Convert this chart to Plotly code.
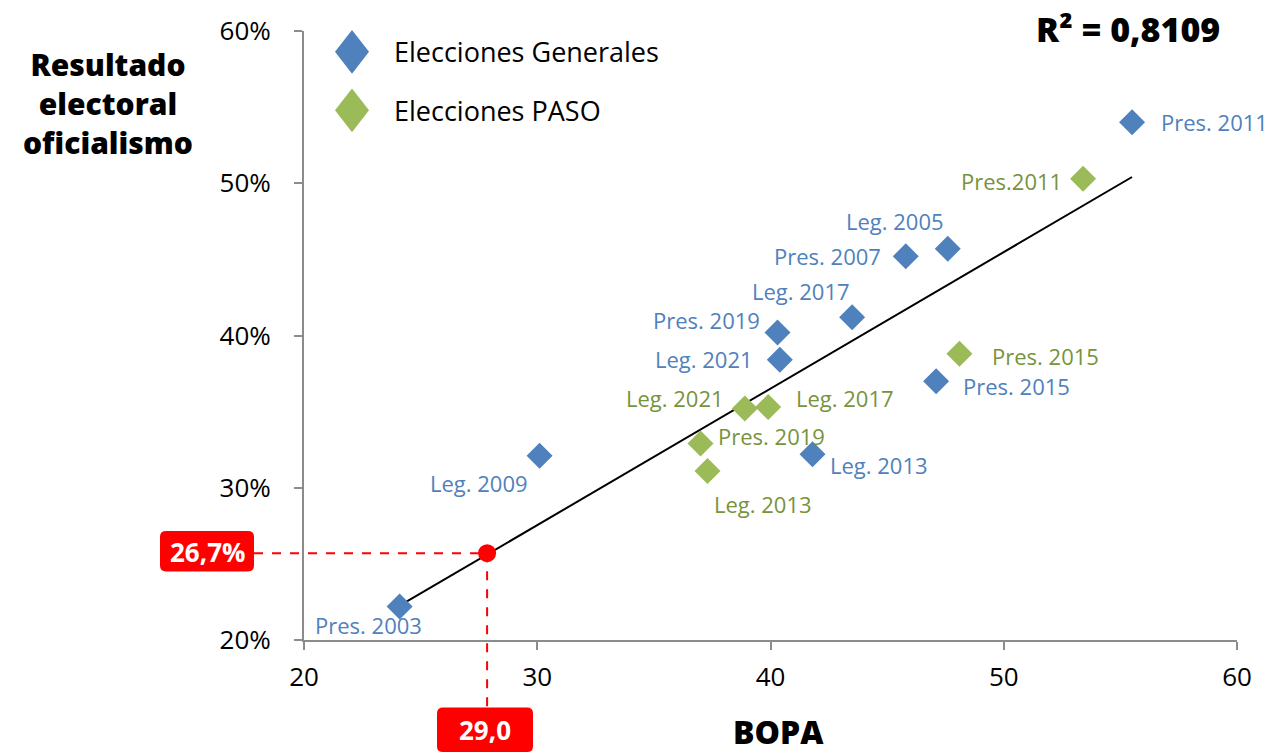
import numpy as np
import plotly.graph_objects as go

# ---- data ----
gen_labels = ["Pres. 2003", "Leg. 2009", "Pres. 2019", "Leg. 2021", "Leg. 2017",
              "Leg. 2013", "Pres. 2007", "Leg. 2005", "Pres. 2015", "Pres. 2011"]
gen_bopa = [24.1, 30.1, 40.3, 40.4, 43.5, 41.8, 45.8, 47.6, 47.1, 55.5]
gen_result = [22.2, 32.1, 40.2, 38.4, 41.2, 32.2, 45.2, 45.7, 37.0, 54.0]

paso_labels = ["Pres.2011", "Pres. 2015", "Leg. 2021", "Leg. 2017", "Pres. 2019", "Leg. 2013"]
paso_bopa = [53.4, 48.1, 38.9, 39.9, 37.0, 37.3]
paso_result = [50.3, 38.8, 35.2, 35.3, 32.9, 31.1]

trend_x = [24.1, 55.5]          # extent of the fitted line
est_bopa = 27.85                # highlighted estimate point
est_result = 25.7
est_bopa_label = "29,0"
est_result_label = "26,7%"
r2_label = "R² = 0,8109"

# ---- styling / label offsets (pixels: dx right, dy down) ----
gen_offsets = [(-31, 18), (-61, 27), (-71, -12), (-76, -1), (-51, -26),
               (67, 11), (-78, 0), (-53, -28), (80, 5), (82, 0)]
paso_offsets = [(-72, 2), (86, 2), (-70, -11), (77, -9), (71, -8), (55, 33)]

BLUE = "#4F81BD"
GREEN = "#9BBB59"
GREEN_TXT = "#77933C"
RED = "#FF0000"
FONT = "Open Sans"
LABEL_SIZE = 22

# regression line from all points
all_x = np.array(gen_bopa + paso_bopa)
all_y = np.array(gen_result + paso_result)
slope, intercept = np.polyfit(all_x, all_y, 1)
tx = np.array(trend_x)
ty = slope * tx + intercept

fig = go.Figure()
fig.add_trace(go.Scatter(x=tx, y=ty, mode="lines", line=dict(color="black", width=2),
                         hoverinfo="skip", showlegend=False))
fig.add_trace(go.Scatter(x=gen_bopa, y=gen_result, mode="markers", name="Elecciones Generales",
                         marker=dict(symbol="diamond", size=20, color=BLUE), showlegend=False))
fig.add_trace(go.Scatter(x=paso_bopa, y=paso_result, mode="markers", name="Elecciones PASO",
                         marker=dict(symbol="diamond", size=20, color=GREEN), showlegend=False))
fig.add_trace(go.Scatter(x=[est_bopa], y=[est_result], mode="markers",
                         marker=dict(symbol="circle", size=18, color=RED), showlegend=False))

annotations = []
for lab, x, y, (dx, dy) in zip(gen_labels, gen_bopa, gen_result, gen_offsets):
    annotations.append(dict(x=x, y=y, text=lab, showarrow=False, xshift=dx, yshift=-dy,
                            xanchor="center", yanchor="middle",
                            font=dict(family=FONT, size=LABEL_SIZE, color=BLUE)))
for lab, x, y, (dx, dy) in zip(paso_labels, paso_bopa, paso_result, paso_offsets):
    annotations.append(dict(x=x, y=y, text=lab, showarrow=False, xshift=dx, yshift=-dy,
                            xanchor="center", yanchor="middle",
                            font=dict(family=FONT, size=LABEL_SIZE, color=GREEN_TXT)))

W, H = 1274, 755
L, R, T, B = 304, 37, 26, 115
pw, ph = W - L - R, H - T - B


def px(xpix):
    return (xpix - L) / pw


def py(ypix):
    return (H - B - ypix) / ph


def txt(x, y, text, size, color="black", weight="normal", xanchor="center"):
    return dict(xref="paper", yref="paper", x=px(x), y=py(y), showarrow=False, text=text,
                xanchor=xanchor, yanchor="middle", align="center",
                font=dict(family=FONT, size=size, color=color, weight=weight))


# axis titles, R², legend texts
annotations.append(txt(108, 99, "Resultado<br>electoral<br>oficialismo", 30, weight=800))
annotations.append(txt(778, 732, "BOPA", 32, weight=800))
annotations.append(txt(1128, 24, r2_label, 34, weight=800))
annotations.append(txt(392, 47, "Elecciones Generales", 27, xanchor="left"))
annotations.append(txt(392, 106, "Elecciones PASO", 27, xanchor="left"))
# red value boxes text
annotations.append(txt(207, 551, est_result_label, 26, color="white", weight="bold"))
annotations.append(txt(485, 731, est_bopa_label, 26, color="white", weight="bold"))

shapes = []


def rounded_box(x0, y0, x1, y1, r=6):
    a, b, c, d = px(x0), px(x1), py(y0), py(y1)   # left, right, top, bottom (paper)
    rx, ry = r / pw, r / ph
    path = (f"M {a+rx},{c} L {b-rx},{c} Q {b},{c} {b},{c-ry} L {b},{d+ry} Q {b},{d} {b-rx},{d} "
            f"L {a+rx},{d} Q {a},{d} {a},{d+ry} L {a},{c-ry} Q {a},{c} {a+rx},{c} Z")
    return dict(type="path", xref="paper", yref="paper", path=path, fillcolor=RED,
                line=dict(width=0), layer="above")


# dashed guide lines
shapes.append(dict(type="line", xref="paper", yref="y", x0=px(254), x1=(est_bopa - 20) / 40,
                   y0=est_result, y1=est_result, line=dict(color=RED, width=2, dash="dash"),
                   layer="below"))
shapes.append(dict(type="line", xref="x", yref="paper", x0=est_bopa, x1=est_bopa,
                   y0=(est_result - 20) / 40, y1=py(710), line=dict(color=RED, width=2, dash="dash"),
                   layer="below"))
shapes.append(rounded_box(160, 530, 254, 571))
shapes.append(rounded_box(437, 708, 533, 753))

# legend diamonds
for cy, col in [(47, BLUE), (106, GREEN)]:
    cx = 352
    path = "M {},{} L {},{} L {},{} L {},{} Z".format(
        px(cx), py(cy - 22), px(cx + 17), py(cy), px(cx), py(cy + 22), px(cx - 17), py(cy))
    shapes.append(dict(type="path", xref="paper", yref="paper", path=path,
                       fillcolor=col, line=dict(width=0)))

axis_common = dict(showgrid=False, zeroline=False, showline=True, linecolor="#8C8C8C",
                   linewidth=2, ticks="outside", ticklen=8, tickwidth=2, tickcolor="#8C8C8C",
                   tickfont=dict(family=FONT, size=26, color="black"), range=[20, 60], dtick=10,
                   fixedrange=True)

fig.update_layout(
    width=W, height=H, autosize=False,
    margin=dict(l=L, r=R, t=T, b=B),
    paper_bgcolor="white", plot_bgcolor="white",
    xaxis=dict(**axis_common, ticklabelstandoff=5),
    yaxis=dict(**axis_common, ticksuffix="%", ticklabelstandoff=18),
    annotations=annotations,
    shapes=shapes,
    showlegend=False,
)

fig.write_html("out.html", post_script="document.body.style.margin='0';",
               config={"displayModeBar": False})
